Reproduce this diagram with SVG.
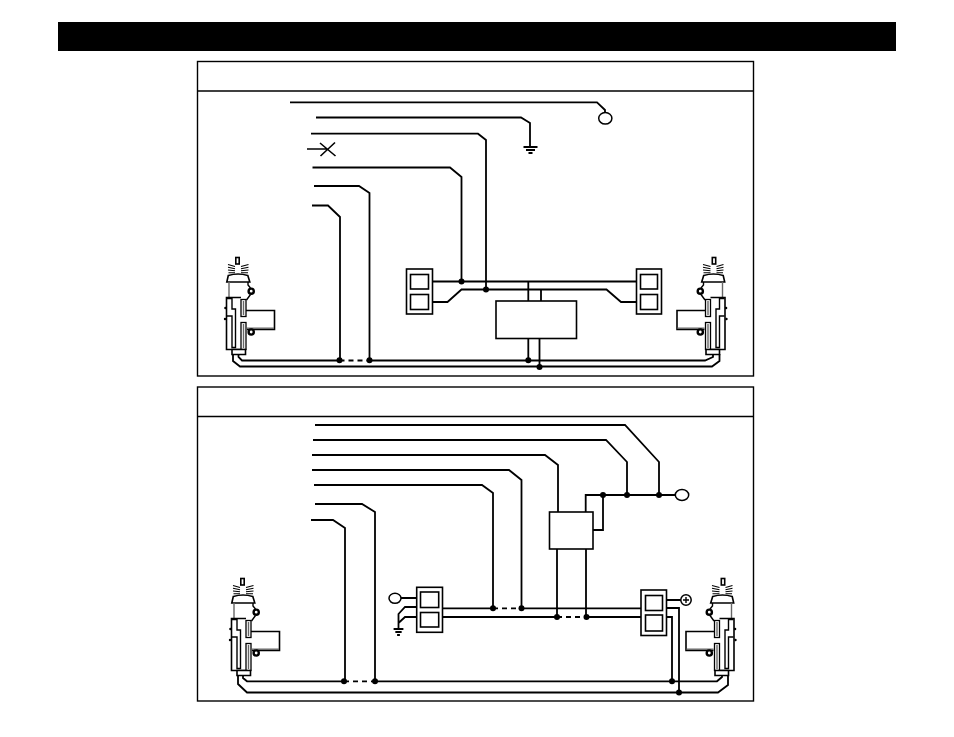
<svg xmlns="http://www.w3.org/2000/svg" xmlns:xlink="http://www.w3.org/1999/xlink" width="954" height="737" viewBox="0 0 954 737">
<style>
.w{fill:none;stroke:#000;stroke-width:1.8;stroke-linejoin:miter}
.t{fill:none;stroke:#000;stroke-width:1.4}
.r{fill:none;stroke:#000;stroke-width:1.1}
.d{stroke-dasharray:5 4}
.b{fill:#fff;stroke:#000;stroke-width:1.6}
.g{fill:none;stroke:#666;stroke-width:1.4}
.j{fill:#000;stroke:none}
.o{fill:#fff;stroke:#000;stroke-width:1.5}
</style>
<defs>
<g id="act">
<rect class="b" x="235.800" y="257.500" width="3.400" height="6.500"/>
<path class="r" d="M228 264.500L235 266.500M228 267.200L235 268.700M228 270L235 270.700M228.500 272.800L235 272.800M248.500 264.500L241 266.500M248.500 267.200L241 268.700M248.500 270L241 270.700M248 272.800L241 272.800"/>
<path class="b" d="M226.800 282L228.300 275.500Q238 272.500 247.800 275.500L249.800 282Z"/>
<path class="g" d="M229 282V297"/>
<path class="t" d="M248 282V285L250.500 288M250.500 294.500L246.500 300"/>
<circle cx="251.200" cy="291.200" r="2.600" fill="#fff" stroke="#000" stroke-width="2.400"/>
<path class="t" style="stroke-width:1.6" d="M246 310.500H274.500V329.500H247"/>
<path class="g" d="M247 328.200H274"/>
<path class="b" style="fill:none" d="M241 297.500H226.500V349.500H245.500"/>
<path class="t" d="M227 298.500H232V309H235.500V347.500H232V316H227"/>
<rect x="241" y="299.500" width="5" height="17" fill="#fff" stroke="#000" stroke-width="1.300"/>
<path class="g" d="M243.500 301V315"/>
<rect x="241" y="322.500" width="5" height="27" fill="#fff" stroke="#000" stroke-width="1.300"/>
<path class="g" d="M243.500 324V348"/>
<path class="b" d="M232 349.500H245.500V354.500H232Z"/>
<circle cx="225.400" cy="308" r="1.200" class="j"/>
<circle cx="225" cy="319" r="1.200" class="j"/>
<circle cx="251.200" cy="332" r="2.600" fill="#fff" stroke="#000" stroke-width="2.400"/>
</g>
<g id="gnd"><path class="w" d="M-7 0H7M-4.500 3H4.500M-2 6H2"/></g>
</defs>
<rect id="title-bar" x="58" y="22" width="838" height="29" fill="#000"/>
<g id="panel-top"><rect x="197.500" y="61.500" width="556" height="314.500" fill="#fff" stroke="#000" stroke-width="1.400"/><path class="t" d="M197.500 91H753.500"/></g>
<g id="panel-bottom"><rect x="197.500" y="387" width="556" height="314" fill="#fff" stroke="#000" stroke-width="1.400"/><path class="t" d="M197.500 416.500H753.500"/></g>
<g id="connectors">
<path class="w" d="M290 102.300H597L605 110V112"/>
<path class="w" d="M316 117.500H521L530 123V147"/>
<path class="w" d="M311 133.700H478L486 140V289.500"/>
<path class="w" d="M307 149H327M320 143L335.500 156M320.500 156L335 142.500" style="stroke-width:1.600"/>
<path class="w" d="M312.500 167.500H450L461.500 177V281.500"/>
<path class="w" d="M314 186H359L369.500 193V360"/>
<path class="w" d="M312 205.500H328L340 217V360"/>
<path class="w" d="M432.500 281.500H636.500M432.500 302H447.500L461.500 289.500H606.500L621 302H636.500"/>
<path class="w" d="M528.300 281.500V301M541 289.500V301M528.300 338.500V360M539.500 338.500V367"/>
<path class="w" d="M233 354V361L240 366.500H712L719.500 361V354"/>
<path class="w" d="M238.500 354V357L242 360.500H339.500M369.500 360.500H705L713 357V354"/>
<path class="w d" d="M339.500 360.500H369.500"/>
<path class="w" d="M315 425H625L659 462V495"/>
<path class="w" d="M313 440H606L627 462V495"/>
<path class="w" d="M312 455H545L558 465V512"/>
<path class="w" d="M312 470H509L521.500 480V608.300"/>
<path class="w" d="M314 485H482L493 493V608.300"/>
<path class="w" d="M315 504H362L375 512V681"/>
<path class="w" d="M311 520H333L345 528V681"/>
<path class="w" d="M585.700 512V495H675M603 495V530H593M557 549V617M586 549V617"/>
<path class="w" d="M442.500 608.300H493M521.500 608.300H641M442.500 617H557M586.500 617H641"/>
<path class="w d" d="M493 608.300H521.500M557 617H586.500"/>
<path class="w" d="M401 598H417M417 607H405L398.500 614V628M417 617H405L398.500 623"/>
<path class="w" d="M666.500 600H681M666.500 608H679V692.500M666.500 617H672V681"/>
<path class="w" d="M243 675V678L247 681.300H344M375 681.300H717L722 677V675"/>
<path class="w d" d="M344 681.300H375"/>
<path class="w" d="M238 675V684L247 692.500H718L728 685V675"/>
<g id="junctions">
<circle class="j" cx="461.500" cy="281.500" r="3"/><circle class="j" cx="486" cy="289.500" r="3"/>
<circle class="j" cx="528.300" cy="360.300" r="3"/><circle class="j" cx="539.500" cy="367" r="3"/>
<circle class="j" cx="339.500" cy="360.300" r="3"/><circle class="j" cx="369.500" cy="360.300" r="3"/>
<circle class="j" cx="603" cy="495" r="3"/><circle class="j" cx="627" cy="495" r="3"/><circle class="j" cx="659" cy="495" r="3"/>
<circle class="j" cx="493" cy="608.300" r="3"/><circle class="j" cx="521.500" cy="608.300" r="3"/>
<circle class="j" cx="557" cy="617" r="3"/><circle class="j" cx="586.500" cy="617" r="3"/>
<circle class="j" cx="344" cy="681.300" r="3"/><circle class="j" cx="375" cy="681.300" r="3"/>
<circle class="j" cx="672" cy="681.300" r="3"/><circle class="j" cx="679" cy="692.500" r="3"/>
</g>
</g>
<g id="terminal-top"><ellipse class="o" cx="605.300" cy="118.300" rx="6.600" ry="5.800"/></g>
<g id="ground-top"><use xlink:href="#gnd" href="#gnd" x="530.500" y="147"/></g>
<g id="actuator-tl"><use xlink:href="#act" href="#act"/></g>
<g id="actuator-tr"><use xlink:href="#act" href="#act" transform="translate(951.500 0) scale(-1 1)"/></g>
<g id="switch-tl"><rect class="b" x="406.500" y="269" width="26" height="45"/><rect class="b" x="410.500" y="274.500" width="18" height="14.500"/><rect class="b" x="410.500" y="294.500" width="18" height="15"/></g>
<g id="switch-tr"><rect class="b" x="636.500" y="269" width="25" height="45"/><rect class="b" x="640.500" y="274.500" width="17" height="14.500"/><rect class="b" x="640.500" y="294.500" width="17" height="15"/></g>
<g id="module-top"><rect class="b" x="496" y="301" width="80.500" height="37.500"/></g>
<g id="module-bottom"><rect class="b" x="549.500" y="512" width="43.500" height="37"/></g>
<g id="terminal-b1"><ellipse class="o" cx="682" cy="495" rx="6.700" ry="5.500"/></g>
<g id="terminal-b2"><ellipse class="o" cx="395" cy="598.300" rx="6" ry="5"/></g>
<g id="ground-bottom"><use xlink:href="#gnd" href="#gnd" transform="translate(398.500 629) scale(.7 1)"/></g>
<g id="terminal-plus"><circle class="o" cx="686" cy="600" r="5.200"/><path class="t" d="M683 600H689M686 597V603"/></g>
<g id="switch-bl"><rect class="b" x="416.700" y="587.300" width="25.800" height="45"/><rect class="b" x="420.500" y="592" width="18.200" height="15.500"/><rect class="b" x="420.500" y="612.500" width="18.200" height="14.500"/></g>
<g id="switch-br"><rect class="b" x="641" y="590" width="25.500" height="45.500"/><rect class="b" x="645.500" y="595.500" width="17" height="15"/><rect class="b" x="645.500" y="615" width="17" height="16"/></g>
<g id="actuator-bl"><use xlink:href="#act" href="#act" transform="translate(5 321)"/></g>
<g id="actuator-br"><use xlink:href="#act" href="#act" transform="translate(960.500 321) scale(-1 1)"/></g>
</svg>
